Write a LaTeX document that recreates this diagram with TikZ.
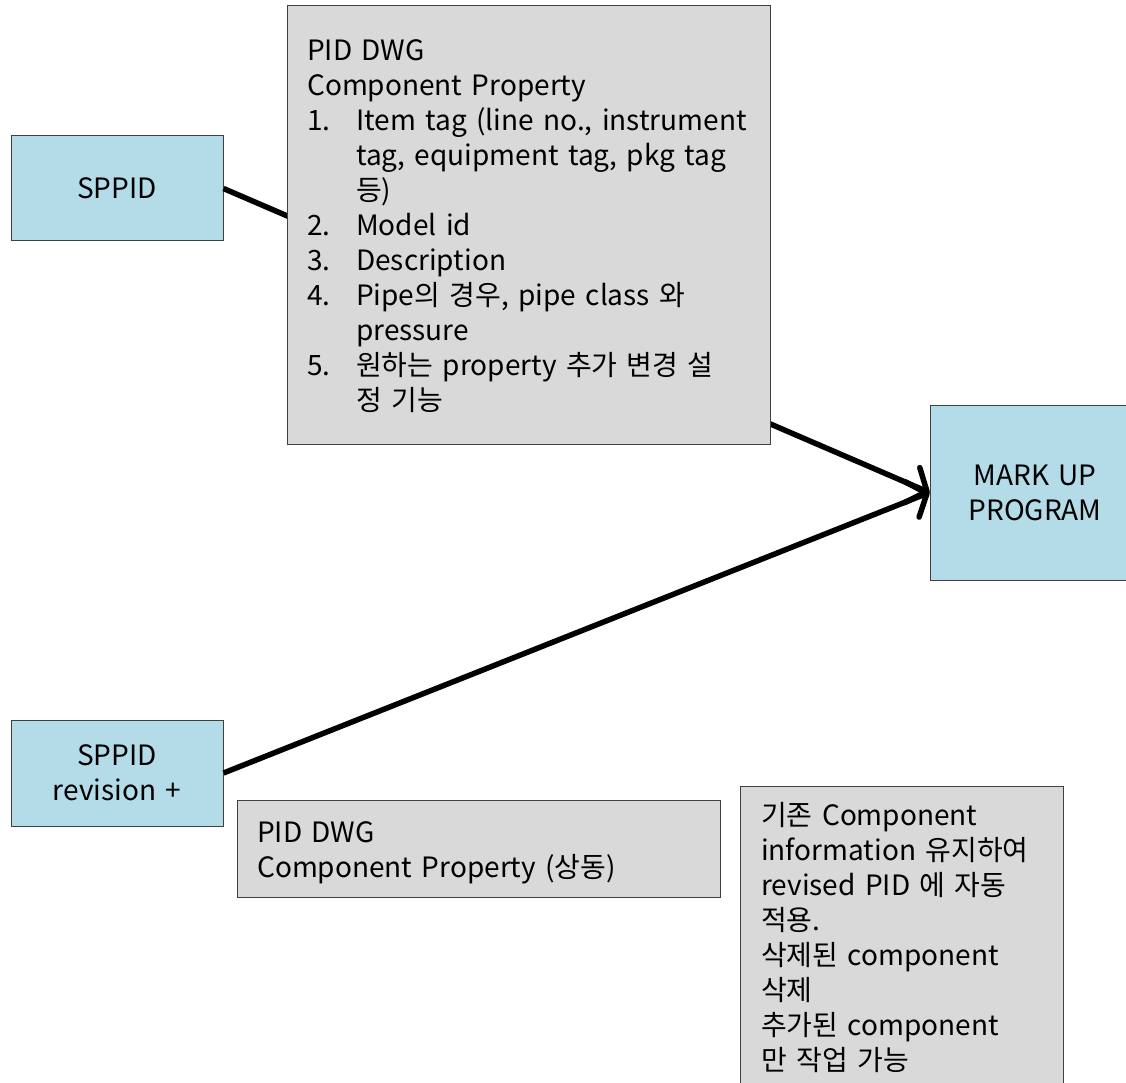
\documentclass[tikz,border=0pt]{standalone}
\usepackage{fontspec}
\setmainfont[WordSpace=1.5]{Noto Sans CJK KR}
\usetikzlibrary{arrows.meta}
\definecolor{boxblue}{HTML}{B3DCE8}
\definecolor{boxgray}{HTML}{D9D9D9}
\definecolor{edge}{HTML}{404040}
\newcommand{\txt}{\fontsize{28}{35}\selectfont}
\newcommand{\itm}[1]{\makebox[49pt][l]{#1}}
\tikzset{
  bluebox/.style={draw=edge, line width=1pt, fill=boxblue, minimum width=#1, inner sep=0pt, align=center, font=\txt},
  graybox/.style={draw=edge, line width=1pt, fill=boxgray, inner sep=0pt},
  txtblock/.style={anchor=base west, inner sep=0pt, font=\txt},
  conn/.style={line width=5.5pt, -{Straight Barb[length=16pt,width=38pt,line cap=round,line join=round]}}
}
\begin{document}
\begin{tikzpicture}[x=1pt,y=-1pt]
\useasboundingbox (0,0) rectangle (1126,1083);
\node[bluebox=212pt, minimum height=105pt] (sppid) at (117,188.5) {SPPID};
\node[bluebox=212pt, minimum height=106pt] (sppidrev) at (117,773) {SPPID\\revision +};
\node[bluebox=210pt, minimum height=175pt] (markup) at (1035,492.5) {MARK UP\\PROGRAM};
\draw[conn] (sppid.east) -- (markup.west);
\draw[conn] (sppidrev.east) -- (markup.west);
\node[graybox, minimum width=483pt, minimum height=438pt] (prop) at (528.5,225) {};
\node[graybox, minimum width=483pt, minimum height=97pt] (same) at (478.5,848.5) {};
\node[graybox, minimum width=323pt, minimum height=314pt] (note) at (901.5,943) {};
\node[txtblock] (proptext) at (307,61) {\parbox[t]{460pt}{\txt\raggedright
PID DWG\\
Component Property\\
\itm{1.}Item tag (line no., instrument\\
\itm{}tag, equipment tag, pkg tag\\
\itm{}등)\\
\itm{2.}Model id\\
\itm{3.}Description\\
\itm{4.}Pipe의 경우, pipe class 와\\
\itm{}pressure\\
\itm{5.}원하는 property 추가 변경 설\\
\itm{}정 기능}};
\node[txtblock] (sametext) at (257,842) {\parbox[t]{460pt}{\txt\raggedright
PID DWG\\
Component Property (상동)}};
\node[txtblock] (notetext) at (761,825) {\parbox[t]{300pt}{\txt\raggedright
기존 Component\\
information 유지하여\\
revised PID 에 자동\\
적용.\\
삭제된 component\\
삭제\\
추가된 component\\
만 작업 가능}};
\end{tikzpicture}
\end{document}
